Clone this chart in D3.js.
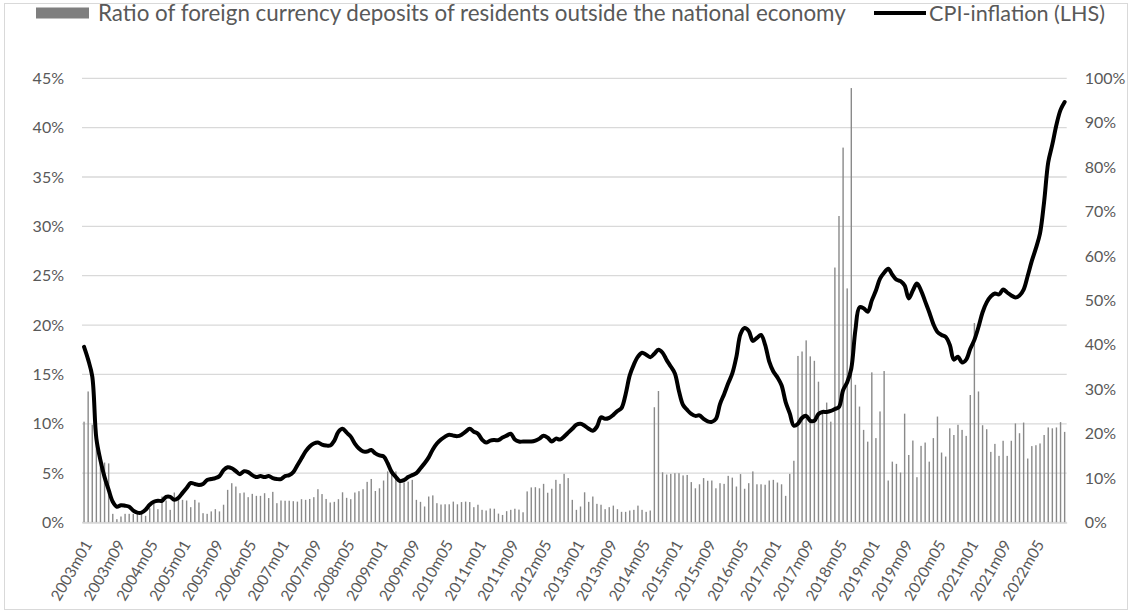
<!DOCTYPE html>
<html><head><meta charset="utf-8">
<script src="https://cdn.jsdelivr.net/npm/d3@7"></script>
<style>
html,body{margin:0;padding:0;background:#fff;}
svg{display:block;font-family:Lato,"Open Sans",sans-serif;}
</style></head>
<body>
<svg id="chart" width="1132" height="614"></svg>
<script>
// ---- DATA ----
const years = d3.range(2003, 2023);
const monthNums = ["01","02","03","04","05","06","07","08","09","10","11","12"];
const categories = [];
years.forEach(y => monthNums.forEach(m => categories.push(y + "m" + m)));

const tickLabels = ["2003m01","2003m09","2004m05","2005m01","2005m09","2006m05","2007m01","2007m09",
  "2008m05","2009m01","2009m09","2010m05","2011m01","2011m09","2012m05","2013m01","2013m09","2014m05",
  "2015m01","2015m09","2016m05","2017m01","2017m09","2018m05","2019m01","2019m09","2020m05","2021m01",
  "2021m09","2022m05"];

const leftTicks = [0,5,10,15,20,25,30,35,40,45];
const rightTicks = [0,10,20,30,40,50,60,70,80,90,100];

// CPI-inflation (LHS), %
const cpiInflation = [
 17.8,16.5,14.8,8.5,6.3,4.6,3.3,2.1,1.6,1.75,
 1.7,1.6,1.2,1.0,1.0,1.3,1.8,2.1,2.2,2.2,
 2.6,2.6,2.3,2.5,3.0,3.5,4.0,3.9,3.8,3.9,
 4.3,4.4,4.5,4.7,5.3,5.6,5.5,5.2,4.9,5.2,
 5.1,4.8,4.6,4.7,4.6,4.7,4.5,4.4,4.4,4.7,
 4.8,5.1,5.8,6.5,7.2,7.7,8.0,8.1,7.9,7.8,
 7.8,8.3,9.2,9.5,9.1,8.7,8.0,7.5,7.2,7.2,
 7.35,7.0,6.8,6.7,6.0,5.1,4.6,4.2,4.3,4.6,
 4.8,5.0,5.5,6.0,6.6,7.4,8.0,8.4,8.7,8.9,
 8.8,8.75,8.9,9.2,9.5,9.2,9.0,8.4,8.1,8.3,
 8.35,8.35,8.6,8.8,9.0,8.4,8.2,8.2,8.2,8.2,
 8.3,8.5,8.8,8.6,8.2,8.5,8.4,8.7,9.1,9.5,
 9.9,10.0,9.8,9.5,9.3,9.7,10.65,10.5,10.6,10.9,
 11.3,11.6,13.0,14.9,16.0,16.8,17.2,17.0,16.75,17.1,
 17.5,17.2,16.45,15.8,15.1,13.3,11.9,11.4,11.0,10.8,
 10.85,10.5,10.25,10.2,10.5,12.0,13.0,14.1,15.1,16.8,
 19.1,19.7,19.4,18.4,18.7,19.0,18.0,16.3,15.3,14.7,
 13.9,12.2,11.05,9.8,10.0,10.6,10.8,10.3,10.3,11.0,
 11.2,11.2,11.3,11.5,11.7,13.4,14.2,15.6,19.5,21.8,
 21.7,21.35,22.5,23.5,24.7,25.3,25.7,25.1,24.6,24.45,
 24.0,22.7,23.5,24.2,23.5,22.4,21.3,20.1,19.3,19.0,
 18.8,18.0,16.5,16.8,16.2,16.5,17.6,18.5,19.8,21.3,
 22.3,22.9,23.2,23.1,23.6,23.3,23.0,22.8,23.0,23.6,
 25.0,26.5,27.8,29.3,32.5,36.5,38.3,40.3,41.8,42.6
];

// Ratio of foreign currency deposits of residents outside the national economy (RHS), %
const depositRatio = [
 22.7,29.5,22,18,15,13.5,13.3,
 1.95,0.75,1.35,1.95,1.95,1.95,2.25,2.1,1.5,3.2,4.7,3.0,5.85,4.95,2.85,6.75,5.7,5.1,4.95,3.45,
 5.1,4.5,2.1,1.95,2.5,3.0,2.5,4.0,7.35,8.85,8.1,6.6,6.75,5.7,6.45,6.0,6.0,6.6,5.5,6.9,4.35,
 4.95,4.9,4.9,4.8,4.7,5.25,5.1,5.3,5.7,7.5,6.4,5.3,4.5,4.65,5.25,6.8,5.55,5.25,6.75,7.05,
 7.5,9.15,9.8,7.1,7.7,9.45,11.5,10.95,11.5,9.2,9.0,9.2,9.6,5.1,4.65,3.6,5.85,6.1,4.35,4.05,
 4.1,4.1,4.7,4.1,4.6,4.7,4.6,3.45,4.0,2.85,2.7,3.15,3.1,2.0,1.7,2.55,2.85,3.1,2.9,2.3,
 7.0,7.9,7.95,7.7,8.7,6.7,7.6,9.6,8.7,10.95,10.0,5.1,2.85,3.6,
 6.8,4.65,5.85,4.2,4.0,3.0,3.45,3.8,3.0,2.4,2.4,2.7,2.85,3.8,2.85,2.4,2.7,25.95,29.6,
 11.3,10.8,10.95,11.1,11.1,10.6,10.7,9.1,7.7,8.6,10.0,9.4,9.45,7.7,8.85,8.7,10.5,10.1,8.1,
 10.9,7.6,8.85,11.5,8.6,8.6,8.5,9.45,9.6,9.0,8.6,6.0,10.95,13.9,37.5,38.5,41.0,37.4,36.4,31.7,
 24.6,27.0,22.7,57.4,69.0,84.4,52.7,97.8,31.0,26.1,20.85,18.2,33.8,19.0,25.0,34.1,9.45,13.7,
 13.2,11.25,24.5,15.2,18.45,10.2,17.25,18.0,13.7,19.0,23.85,15.75,14.85,21.2,19.7,22.0,20.85,
 19.5,28.7,44.9,29.5,
 21.9,21.0,15.9,17.7,15.0,18.4,15.0,18.4,22.3,20.1,22.5,14.4,17.2,17.4,17.8,19.7,21.4,21.2,
 21.4,22.6,20.4
];

const barName = "Ratio of foreign currency deposits of residents outside the national economy";
const lineName = "CPI-inflation (LHS)";

// ---- LAYOUT ----
const svg = d3.select("#chart");
const X0 = 82, X1 = 1066.7, YT = 78.3, YB = 522.5;
const textColor = "#595959", gridColor = "#d9d9d9";

svg.append("rect").attr("x",4.5).attr("y",3.5).attr("width",1123).attr("height",606)
  .attr("fill","#fff").attr("stroke",gridColor).attr("stroke-width",1);

const x = d3.scaleBand().domain(categories).range([X0, X1]).padding(0);
const yL = d3.scaleLinear().domain([0,45]).range([YB, YT]);
const yR = d3.scaleLinear().domain([0,100]).range([YB, YT]);

// gridlines
svg.append("g").selectAll("line").data(leftTicks).join("line")
  .attr("x1",X0).attr("x2",X1)
  .attr("y1",d=>yL(d)).attr("y2",d=>yL(d))
  .attr("stroke",gridColor).attr("stroke-width",1.3);

// bars (RHS)
const bw = 1.4;
svg.append("g").selectAll("rect").data(depositRatio).join("rect")
  .attr("x",(d,i)=>x(categories[i]) + x.bandwidth()/2 - bw/2)
  .attr("width",bw)
  .attr("y",d=>yR(d))
  .attr("height",d=>YB - yR(d))
  .attr("fill","#8a8a8a");

// line (LHS)
const line = d3.line()
  .x((d,i)=>x(categories[i]) + x.bandwidth()/2)
  .y(d=>yL(d))
  .curve(d3.curveCatmullRom.alpha(0.5));
svg.append("path").datum(cpiInflation)
  .attr("d",line).attr("fill","none").attr("stroke","#000")
  .attr("stroke-width",4).attr("stroke-linejoin","round").attr("stroke-linecap","round");

// left axis
const gL = svg.append("g").attr("transform",`translate(${X0},0)`)
  .call(d3.axisLeft(yL).tickValues(leftTicks).tickSize(0).tickPadding(18).tickFormat(d=>d+"%"));
gL.select(".domain").remove();
gL.selectAll("text").attr("fill",textColor).style("font-size","16px").style("font-family","Lato");

// right axis
const gR = svg.append("g").attr("transform",`translate(${X1},0)`)
  .call(d3.axisRight(yR).tickValues(rightTicks).tickSize(0).tickPadding(18).tickFormat(d=>d+"%"));
gR.select(".domain").remove();
gR.selectAll("text").attr("fill",textColor).style("font-size","16px").style("font-family","Lato");

// x axis
const gX = svg.append("g").attr("transform",`translate(0,${YB})`)
  .call(d3.axisBottom(x).tickValues(tickLabels).tickSize(0));
gX.select(".domain").attr("stroke",gridColor).attr("stroke-width",1.3);
gX.selectAll("text")
  .attr("fill",textColor).style("font-size","15.5px").style("font-family","Lato")
  .attr("text-anchor","end").attr("x",0).attr("y",0).attr("dy","0.35em")
  .attr("transform","translate(4,19) rotate(-60)");

// legend
const leg = svg.append("g");
leg.append("rect").attr("x",36).attr("y",7.5).attr("width",53).attr("height",11).attr("fill","#7f7f7f");
const t1 = leg.append("text").attr("x",98).attr("y",13).attr("dy","0.35em")
  .attr("fill",textColor).style("font-family","Lato").style("font-size","19px").text(barName);
leg.append("line").attr("x1",874).attr("x2",926).attr("y1",13).attr("y2",13)
  .attr("stroke","#000").attr("stroke-width",4);
const t2 = leg.append("text").attr("x",929).attr("y",13).attr("dy","0.35em")
  .attr("fill",textColor).style("font-family","Lato").style("font-size","19px").text(lineName);
// fit legend text widths to reference
[[t1,748],[t2,176]].forEach(([t,w])=>{
  const L = t.node().getComputedTextLength();
  t.style("font-size",(19*w/L).toFixed(2)+"px");
});
</script>
</body></html>
